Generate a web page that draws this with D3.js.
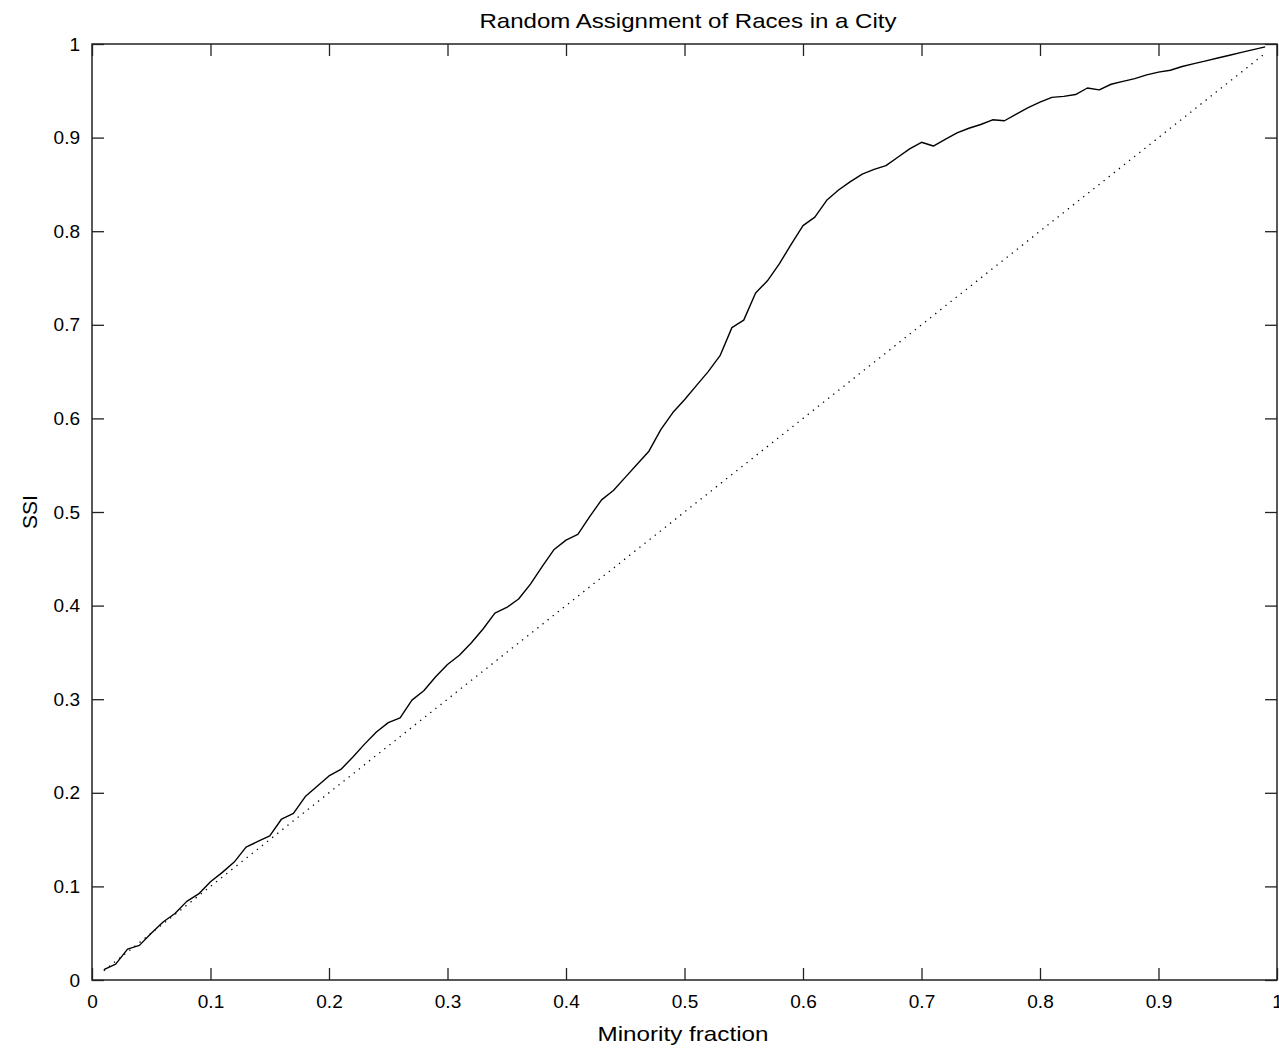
<!DOCTYPE html>
<html>
<head>
<meta charset="utf-8">
<script src="https://cdn.jsdelivr.net/npm/d3@7"></script>
<style>
  html, body { margin: 0; padding: 0; background: #fff; }
  text { font-family: "Liberation Sans", Arial, Helvetica, sans-serif; fill: #000; }
</style>
</head>
<body>
<svg id="chart" width="1279" height="1048"></svg>
<script>
// ---- Data ----
const minorityFraction = [
  0.01,0.02,0.03,0.04,0.05,0.06,0.07,0.08,0.09,0.10,
  0.11,0.12,0.13,0.14,0.15,0.16,0.17,0.18,0.19,0.20,
  0.21,0.22,0.23,0.24,0.25,0.26,0.27,0.28,0.29,0.30,
  0.31,0.32,0.33,0.34,0.35,0.36,0.37,0.38,0.39,0.40,
  0.41,0.42,0.43,0.44,0.45,0.46,0.47,0.48,0.49,0.50,
  0.51,0.52,0.53,0.54,0.55,0.56,0.57,0.58,0.59,0.60,
  0.61,0.62,0.63,0.64,0.65,0.66,0.67,0.68,0.69,0.70,
  0.71,0.72,0.73,0.74,0.75,0.76,0.77,0.78,0.79,0.80,
  0.81,0.82,0.83,0.84,0.85,0.86,0.87,0.88,0.89,0.90,
  0.91,0.92,0.93,0.94,0.95,0.96,0.97,0.98,0.99
];
const ssiValues = [
  0.011,0.017,0.033,0.037,0.050,0.062,0.071,0.084,0.092,0.105,
  0.115,0.126,0.142,0.148,0.154,0.172,0.178,0.196,0.207,0.218,
  0.225,0.238,0.252,0.265,0.275,0.280,0.299,0.309,0.324,0.337,
  0.347,0.360,0.375,0.392,0.398,0.407,0.423,0.442,0.460,0.470,
  0.476,0.495,0.513,0.523,0.537,0.551,0.565,0.588,0.606,0.620,
  0.635,0.650,0.667,0.697,0.705,0.734,0.747,0.765,0.786,0.806,
  0.815,0.833,0.844,0.853,0.861,0.866,0.870,0.879,0.888,0.895,
  0.891,0.898,0.905,0.910,0.914,0.919,0.918,0.925,0.932,0.938,
  0.943,0.944,0.946,0.953,0.951,0.957,0.960,0.963,0.967,0.970,
  0.972,0.976,0.979,0.982,0.985,0.988,0.991,0.994,0.997
];
const referenceX = [0.01, 0.99];
const referenceY = [0.01, 0.99];
const xTickValues = [0,0.1,0.2,0.3,0.4,0.5,0.6,0.7,0.8,0.9,1];
const yTickValues = [0,0.1,0.2,0.3,0.4,0.5,0.6,0.7,0.8,0.9,1];
const titleText = "Random Assignment of Races in a City";
const xLabelText = "Minority fraction";
const yLabelText = "SSI";

// ---- Layout ----
const pLeft = 92, pRight = 1277, pTop = 44, pBottom = 980;
const svg = d3.select("#chart");
const x = d3.scaleLinear().domain([0, 1]).range([pLeft, pRight]);
const y = d3.scaleLinear().domain([0, 1]).range([pBottom, pTop]);
const fmt = d => (d === 0 || d === 1) ? String(d) : d3.format(".1f")(d);
const tickLen = 12;
const axisColor = "#222";

// Box frame
svg.append("rect")
  .attr("x", pLeft).attr("y", pTop)
  .attr("width", pRight - pLeft).attr("height", pBottom - pTop)
  .attr("fill", "none").attr("stroke", axisColor).attr("stroke-width", 1.5);

function styleAxis(g) {
  g.select(".domain").remove();
  g.selectAll(".tick line").attr("stroke", axisColor).attr("stroke-width", 1.3);
  g.selectAll(".tick text").style("font-size", "19px").attr("fill", "#000");
}

// Bottom axis (ticks inward)
svg.append("g")
  .attr("transform", `translate(0,${pBottom})`)
  .call(d3.axisBottom(x).tickValues(xTickValues).tickFormat(fmt).tickSizeInner(-tickLen).tickSizeOuter(0).tickPadding(15))
  .call(styleAxis);
// Top axis mirrored ticks
svg.append("g")
  .attr("transform", `translate(0,${pTop})`)
  .call(d3.axisTop(x).tickValues(xTickValues).tickFormat("").tickSizeInner(-tickLen).tickSizeOuter(0))
  .call(styleAxis);
// Left axis
svg.append("g")
  .attr("transform", `translate(${pLeft},0)`)
  .call(d3.axisLeft(y).tickValues(yTickValues).tickFormat(fmt).tickSizeInner(-tickLen).tickSizeOuter(0).tickPadding(12))
  .call(styleAxis);
// Right axis mirrored ticks
svg.append("g")
  .attr("transform", `translate(${pRight},0)`)
  .call(d3.axisRight(y).tickValues(yTickValues).tickFormat("").tickSizeInner(-tickLen).tickSizeOuter(0))
  .call(styleAxis);

// Lines
const line = d3.line().x(d => x(d[0])).y(d => y(d[1]));
const refData = referenceX.map((v, i) => [v, referenceY[i]]);
svg.append("path")
  .datum(refData)
  .attr("d", line)
  .attr("fill", "none")
  .attr("stroke", "#000")
  .attr("stroke-width", 1.3)
  .attr("stroke-dasharray", "1.3,5.2");

const ssiData = minorityFraction.map((v, i) => [v, ssiValues[i]]);
svg.append("path")
  .datum(ssiData)
  .attr("d", line)
  .attr("fill", "none")
  .attr("stroke", "#000")
  .attr("stroke-width", 1.4)
  .attr("stroke-linejoin", "round");

// Texts
svg.append("text")
  .attr("x", 688).attr("y", 28)
  .attr("text-anchor", "middle")
  .attr("textLength", 417)
  .attr("lengthAdjust", "spacingAndGlyphs")
  .style("font-size", "21px")
  .text(titleText);
svg.append("text")
  .attr("x", 683).attr("y", 1041)
  .attr("text-anchor", "middle")
  .attr("textLength", 171)
  .attr("lengthAdjust", "spacingAndGlyphs")
  .style("font-size", "21px")
  .text(xLabelText);
svg.append("text")
  .attr("transform", `translate(37,${(pTop + pBottom) / 2}) rotate(-90)`)
  .attr("text-anchor", "middle")
  .style("font-size", "21px")
  .text(yLabelText);
</script>
</body>
</html>
